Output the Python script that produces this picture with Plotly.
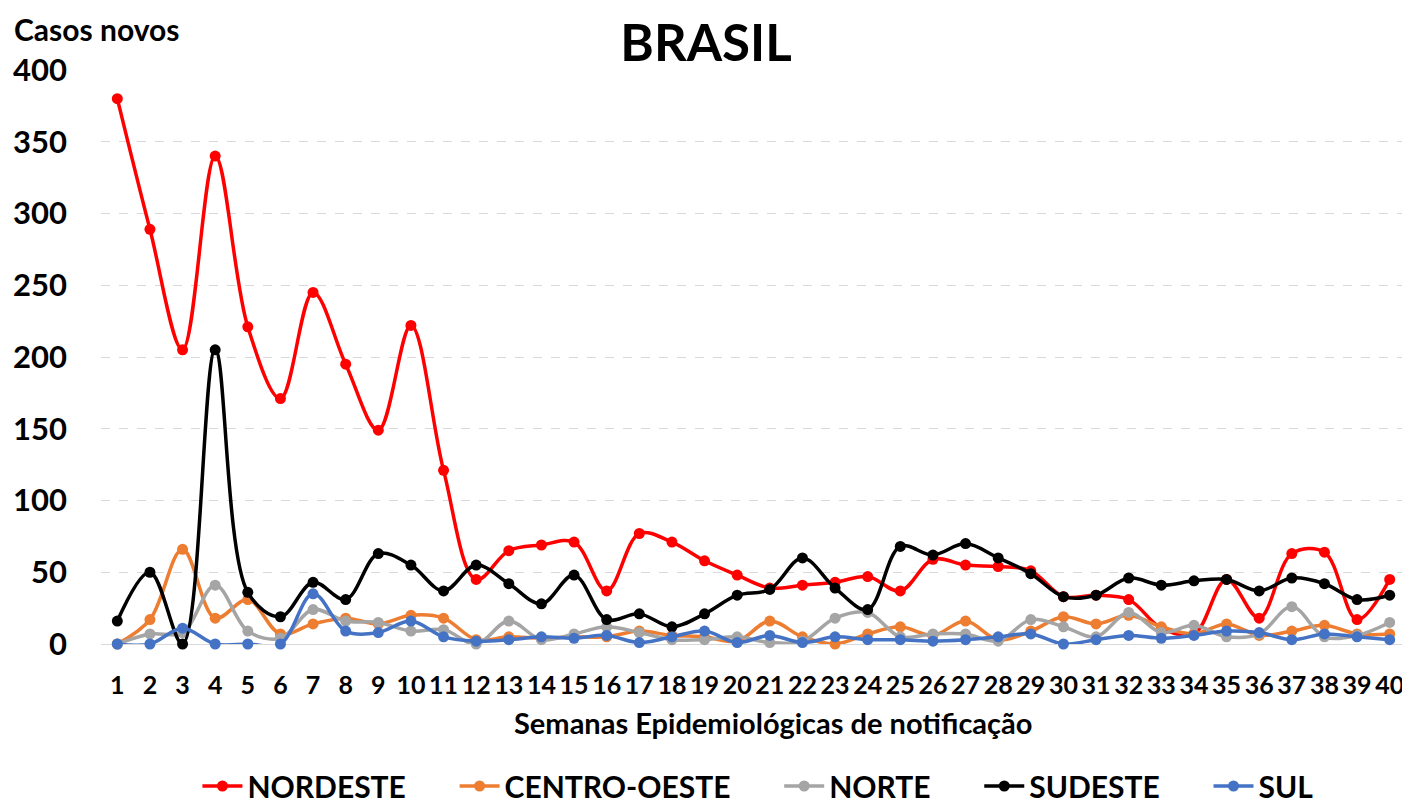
import plotly.graph_objects as go

# semanas epidemiologicas
weeks = list(range(1, 41))
week_labels = [str(w) for w in weeks]

nordeste = [380, 289, 205, 340, 221, 171, 245, 195, 149, 222, 121, 45, 65, 69, 71, 37, 77, 71, 58, 48,
            39, 41, 43, 47, 37, 59, 55, 54, 51, 33, 34, 31, 11, 7, 45, 18, 63, 64, 17, 45]
centro_oeste = [0, 17, 66, 18, 31, 7, 14, 18, 14, 20, 18, 3, 5, 4, 5, 5, 9, 6, 5, 2,
                16, 5, 0, 7, 12, 6, 16, 3, 9, 19, 14, 20, 12, 7, 14, 6, 9, 13, 7, 7]
norte = [0, 7, 8, 41, 9, 4, 24, 16, 15, 9, 10, 0, 16, 3, 7, 12, 8, 3, 3, 5,
         1, 2, 18, 22, 5, 7, 7, 2, 17, 12, 5, 22, 8, 13, 5, 7, 26, 5, 6, 15]
sudeste = [16, 50, 0, 205, 36, 19, 43, 31, 63, 55, 37, 55, 42, 28, 48, 17, 21, 12, 21, 34,
           38, 60, 39, 24, 68, 62, 70, 60, 49, 33, 34, 46, 41, 44, 45, 37, 46, 42, 31, 34]
sul = [0, 0, 11, 0, 0, 0, 35, 9, 8, 16, 5, 2, 3, 5, 4, 6, 1, 5, 9, 1,
       6, 1, 5, 3, 3, 2, 3, 5, 7, 0, 3, 6, 4, 6, 9, 8, 3, 7, 5, 3]

series = [
    ("NORDESTE", nordeste, "#FF0000"),
    ("CENTRO-OESTE", centro_oeste, "#ED7D31"),
    ("NORTE", norte, "#A5A5A5"),
    ("SUDESTE", sudeste, "#000000"),
    ("SUL", sul, "#4472C4"),
]

FONT = "Lato, Calibri, Arial, sans-serif"
PAD = "\u00a0" * 6  # spacing between legend entries

fig = go.Figure()
for i, (name, vals, color) in enumerate(series):
    label = name + (PAD if i < len(series) - 1 else "")
    fig.add_trace(go.Scatter(
        x=weeks, y=vals, name=label, mode="lines+markers",
        line=dict(color=color, width=3.5, shape="spline", smoothing=1.0),
        marker=dict(color=color, size=11),
        cliponaxis=False,
    ))

# page body has an 8px margin, so the figure is 8px smaller than the window
W, H = 1402, 796
fig.update_layout(
    width=W, height=H,
    margin=dict(l=93, r=4, t=62, b=160, autoexpand=False),
    paper_bgcolor="white", plot_bgcolor="white",
    title=dict(text="<b>BRASIL</b>", x=0.4636, xanchor="center", xref="paper",
               y=1 - 35 / H, yanchor="middle", yref="container",
               font=dict(family=FONT, size=51, color="black")),
    legend=dict(orientation="h", x=0.5034, xanchor="center", xref="paper",
                y=1 - 778 / H, yanchor="middle", yref="container",
                font=dict(family=FONT, size=30, color="black", weight="bold"),
                itemwidth=40),
    showlegend=True,
)

fig.update_xaxes(
    range=[0.5, 40.5], tickmode="array", tickvals=weeks, ticktext=week_labels,
    showgrid=False, zeroline=False, showline=False, ticks="",
    tickfont=dict(family=FONT, size=25, color="black", weight="bold"),
    ticklabelstandoff=24,
)
fig.update_yaxes(
    range=[0, 400], dtick=50, showgrid=True, gridcolor="#D9D9D9", griddash="dash", gridwidth=1,
    zeroline=True, zerolinecolor="#D9D9D9", zerolinewidth=1,
    showline=False, ticks="",
    tickfont=dict(family=FONT, size=31, color="black", weight="bold"),
    ticklabelstandoff=33,
)

fig.add_annotation(
    text="Casos novos", xref="paper", yref="paper", x=-89 / 1305, xanchor="left",
    y=1 + 61 / 574, yanchor="top", showarrow=False,
    font=dict(family=FONT, size=30, color="black", weight="bold"),
)
fig.add_annotation(
    text="Semanas Epidemiológicas de notificação", xref="paper", yref="paper",
    x=0.515, xanchor="center", y=-0.1376, yanchor="middle", showarrow=False,
    font=dict(family=FONT, size=29, color="black", weight="bold"),
)

fig.write_html("out.html")
